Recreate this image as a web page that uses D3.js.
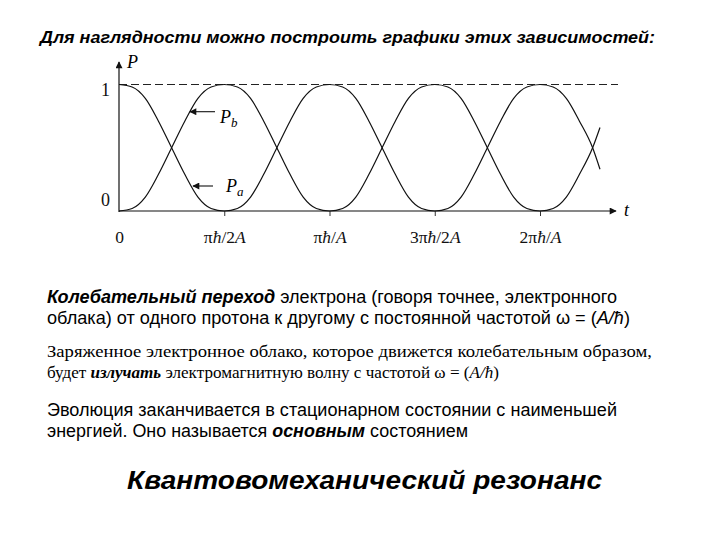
<!DOCTYPE html>
<meta charset="utf-8">
<script src="https://d3js.org/d3.v7.min.js"></script>
<style>
  body { margin: 0; background: #fff; }
  svg { display: block; }
</style>
<div id="chart"></div>
<script>
// time in units of pi*hbar/2A, sampled every 1/8 unit
const T = [0, 0.125, 0.25, 0.375, 0.5, 0.625, 0.75, 0.875,
           1, 1.125, 1.25, 1.375, 1.5, 1.625, 1.75, 1.875,
           2, 2.125, 2.25, 2.375, 2.5, 2.625, 2.75, 2.875,
           3, 3.125, 3.25, 3.375, 3.5, 3.625, 3.75, 3.875,
           4, 4.125, 4.25, 4.375, 4.5, 4.57]
// probabilities
const PA = [1, .98, .89, .71, .5, .29, .11, .02,
            0, .02, .11, .29, .5, .71, .89, .98,
            1, .98, .89, .71, .5, .29, .11, .02,
            0, .02, .11, .29, .5, .71, .89, .98,
            1, .98, .89, .71, .5, .33]
const PB = [0, .02, .11, .29, .5, .71, .89, .98,
            1, .98, .89, .71, .5, .29, .11, .02,
            0, .02, .11, .29, .5, .71, .89, .98,
            1, .98, .89, .71, .5, .29, .11, .02,
            0, .02, .11, .29, .5, .66]
const X_TICKS = [0, 1, 2, 3, 4]
const X_LABELS = [["0"], ["π", "ħ", "/2", "A"], ["π", "ħ", "/", "A"], ["3π", "ħ", "/2", "A"], ["2π", "ħ", "/", "A"]]
const Y_TICKS = [0, 1]

const W = 720, H = 540
const svg = d3.select("#chart").append("svg")
    .attr("width", W).attr("height", H)

svg.append("defs").append("marker")
    .attr("id", "tip")
    .attr("viewBox", "0 0 10 10")
    .attr("refX", 9).attr("refY", 5)
    .attr("markerWidth", 9).attr("markerHeight", 7)
    .attr("markerUnits", "userSpaceOnUse")
    .attr("orient", "auto")
    .append("path").attr("d", "M0,0 L10,5 L0,10 z").attr("fill", "#111")

// title
svg.append("text")
    .attr("x", 40).attr("y", 43)
    .attr("textLength", 615).attr("lengthAdjust", "spacingAndGlyphs")
    .style("font", "italic bold 16.5px 'Liberation Sans', Arial, sans-serif")
    .text("Для наглядности можно построить графики этих зависимостей:")

// ---- plot ----
const x = d3.scaleLinear().domain([0, 4]).range([119, 540])
const y = d3.scaleLinear().domain([0, 1]).range([211, 84.5])
const serif = "'Liberation Serif', 'Times New Roman', serif"

// dashed level P = 1
svg.append("line")
    .attr("x1", x(0)).attr("x2", 618)
    .attr("y1", y(1)).attr("y2", y(1))
    .attr("stroke", "#222").attr("stroke-width", 1.2)
    .attr("stroke-dasharray", "8,4")

// x axis with arrow
svg.append("line")
    .attr("x1", x(0)).attr("x2", 616)
    .attr("y1", y(0)).attr("y2", y(0))
    .attr("stroke", "#111").attr("stroke-width", 1.2)
    .attr("marker-end", "url(#tip)")

// y axis with arrow
svg.append("line")
    .attr("x1", x(0)).attr("x2", x(0))
    .attr("y1", y(0) + 1).attr("y2", 62)
    .attr("stroke", "#111").attr("stroke-width", 1.2)
    .attr("marker-end", "url(#tip)")

const xAxis = svg.append("g")
    .attr("transform", "translate(0," + y(0) + ")")
    .call(d3.axisBottom(x).tickValues(X_TICKS).tickSize(5).tickFormat(""))
xAxis.select(".domain").remove()
xAxis.selectAll(".tick line").attr("stroke", "#333")
    .filter(d => d === 0).remove()
xAxis.selectAll(".tick text").remove()
xAxis.selectAll(".tick").append("text")
    .attr("y", 32).attr("fill", "#111")
    .attr("text-anchor", "middle")
    .style("font-family", serif).style("font-size", "17.5px")
    .each(function (d, i) {
        const parts = X_LABELS[i]
        const t = d3.select(this)
        parts.forEach(p => {
            t.append("tspan").text(p)
                .style("font-style", (p === "ħ" || p === "A") ? "italic" : "normal")
        })
    })

const yAxis = svg.append("g")
    .attr("transform", "translate(" + x(0) + ",0)")
    .call(d3.axisLeft(y).tickValues(Y_TICKS).tickSize(0).tickFormat(d3.format("d")))
yAxis.select(".domain").remove()
yAxis.selectAll(".tick text")
    .attr("x", -9)
    .attr("dy", d => d === 1 ? "10.5px" : "-6px")
    .attr("fill", "#111")
    .style("font-family", serif).style("font-size", "18px")

svg.append("text")
    .attr("x", 127).attr("y", 68)
    .style("font", "italic 18px " + serif)
    .text("P")

// curves
const line = d3.line().curve(d3.curveMonotoneX)
    .x(d => x(d[0])).y(d => y(d[1]))
const series = [PA, PB]
svg.append("g").selectAll("path")
    .data(series)
    .join("path")
    .attr("d", s => line(T.map((t, i) => [t, s[i]])))
    .attr("fill", "none")
    .attr("stroke", "#111")
    .attr("stroke-width", 1.2)

// labels with pointing arrows
const labels = [
    { sub: "b", x1: 215, x2: 190, ay: 111.7, tx: 220, ty: 123 },
    { sub: "a", x1: 213, x2: 193, ay: 186, tx: 226, ty: 192 }
]
labels.forEach(l => {
    svg.append("line")
        .attr("x1", l.x1).attr("x2", l.x2)
        .attr("y1", l.ay).attr("y2", l.ay)
        .attr("stroke", "#111").attr("stroke-width", 1.1)
        .attr("marker-end", "url(#tip)")
    const t = svg.append("text")
        .attr("x", l.tx).attr("y", l.ty)
        .style("font", "italic 18px " + serif)
    t.append("tspan").text("P")
    t.append("tspan").text(l.sub).attr("dy", 4).style("font-size", "13px")
})

svg.append("text")
    .attr("x", 624).attr("y", 216)
    .style("font", "italic 18px " + serif)
    .text("t")

// ---- text blocks ----
const sans = "'Liberation Sans', Arial, sans-serif"
function para(lines, family, size) {
    lines.forEach(l => {
        const t = svg.append("text")
            .attr("x", 47).attr("y", l.y)
            .attr("textLength", l.w).attr("lengthAdjust", "spacingAndGlyphs")
            .style("font-family", family).style("font-size", size + "px")
            .attr("fill", "#000")
        l.parts.forEach(p => {
            const s = t.append("tspan").text(p[0])
            if (p[1] === "b") s.style("font-weight", "bold").style("font-style", "italic")
            if (p[1] === "i") s.style("font-style", "italic")
        })
    })
}

para([
    { y: 303, w: 570, parts: [["Колебательный переход", "b"], [" электрона (говоря точнее, электронного"]] },
    { y: 324, w: 583, parts: [["облака) от одного протона к другому с постоянной частотой ω = ("], ["A/ħ", "i"], [")"]] }
], sans, 17.5)

para([
    { y: 357, w: 605, parts: [["Заряженное электронное облако, которое движется колебательным образом,"]] },
    { y: 378, w: 452, parts: [["будет "], ["излучать", "b"], [" электромагнитную волну с частотой ω = ("], ["A/ħ", "i"], [")"]] }
], serif, 16.5)

para([
    { y: 416, w: 570, parts: [["Эволюция заканчивается в стационарном состоянии с наименьшей"]] },
    { y: 437, w: 421, parts: [["энергией. Оно называется "], ["основным", "b"], [" состоянием"]] }
], sans, 17.5)

svg.append("text")
    .attr("x", 127).attr("y", 489)
    .attr("textLength", 475).attr("lengthAdjust", "spacingAndGlyphs")
    .style("font", "italic bold 26.5px " + sans)
    .text("Квантовомеханический резонанс")
</script>
